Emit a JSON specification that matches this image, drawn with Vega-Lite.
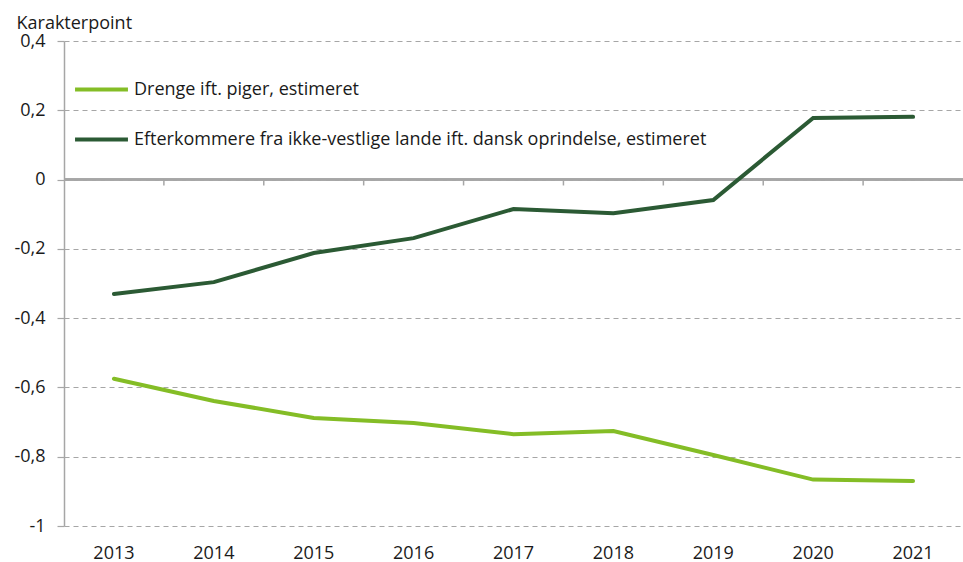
{
  "$schema": "https://vega.github.io/schema/vega-lite/v6.json",
  "width": 899,
  "height": 485,
  "autosize": {"type": "none"},
  "padding": {"left": 64, "top": 41, "right": 0, "bottom": 36},
  "background": "white",
  "config": {
    "font": "Open Sans",
    "view": {"stroke": null},
    "axis": {"labelFont": "Open Sans", "titleFont": "Open Sans", "labelColor": "#1a1a1a", "titleColor": "#1a1a1a"}
  },
  "datasets": {
    "main": [
      {"year": "2013", "series": "Drenge ift. piger, estimeret", "value": -0.575},
      {"year": "2014", "series": "Drenge ift. piger, estimeret", "value": -0.639},
      {"year": "2015", "series": "Drenge ift. piger, estimeret", "value": -0.688},
      {"year": "2016", "series": "Drenge ift. piger, estimeret", "value": -0.703},
      {"year": "2017", "series": "Drenge ift. piger, estimeret", "value": -0.735},
      {"year": "2018", "series": "Drenge ift. piger, estimeret", "value": -0.726},
      {"year": "2019", "series": "Drenge ift. piger, estimeret", "value": -0.795},
      {"year": "2020", "series": "Drenge ift. piger, estimeret", "value": -0.866},
      {"year": "2021", "series": "Drenge ift. piger, estimeret", "value": -0.870},
      {"year": "2013", "series": "Efterkommere fra ikke-vestlige lande ift. dansk oprindelse, estimeret", "value": -0.330},
      {"year": "2014", "series": "Efterkommere fra ikke-vestlige lande ift. dansk oprindelse, estimeret", "value": -0.296},
      {"year": "2015", "series": "Efterkommere fra ikke-vestlige lande ift. dansk oprindelse, estimeret", "value": -0.212},
      {"year": "2016", "series": "Efterkommere fra ikke-vestlige lande ift. dansk oprindelse, estimeret", "value": -0.169},
      {"year": "2017", "series": "Efterkommere fra ikke-vestlige lande ift. dansk oprindelse, estimeret", "value": -0.085},
      {"year": "2018", "series": "Efterkommere fra ikke-vestlige lande ift. dansk oprindelse, estimeret", "value": -0.097},
      {"year": "2019", "series": "Efterkommere fra ikke-vestlige lande ift. dansk oprindelse, estimeret", "value": -0.059},
      {"year": "2020", "series": "Efterkommere fra ikke-vestlige lande ift. dansk oprindelse, estimeret", "value": 0.178},
      {"year": "2021", "series": "Efterkommere fra ikke-vestlige lande ift. dansk oprindelse, estimeret", "value": 0.181}
    ],
    "years": [
      {"year": "2014"}, {"year": "2015"}, {"year": "2016"}, {"year": "2017"},
      {"year": "2018"}, {"year": "2019"}, {"year": "2020"}, {"year": "2021"}
    ]
  },
  "data": {"name": "main"},
  "layer": [
    {
      "mark": {"type": "rule", "color": "#a6a6a6", "strokeWidth": 1.5},
      "encoding": {"y": {"datum": 0, "type": "quantitative"}}
    },
    {
      "data": {"name": "years"},
      "mark": {"type": "rule", "color": "#a6a6a6", "strokeWidth": 1.5},
      "encoding": {
        "x": {"field": "year", "type": "ordinal", "bandPosition": 0},
        "y": {"datum": 0, "type": "quantitative"},
        "y2": {"datum": -0.017}
      }
    },
    {
      "mark": {"type": "line", "strokeWidth": 4, "strokeCap": "round", "strokeJoin": "miter"},
      "encoding": {
        "x": {
          "field": "year",
          "type": "ordinal",
          "scale": {"type": "band", "paddingInner": 0, "paddingOuter": 0},
          "axis": {
            "title": null,
            "domain": false,
            "ticks": false,
            "grid": false,
            "labelAngle": 0,
            "labelAlign": "center",
            "bandPosition": 0.5,
            "labelFontSize": 18,
            "labelPadding": 27
          }
        },
        "y": {
          "field": "value",
          "type": "quantitative",
          "scale": {"domain": [-1, 0.4], "nice": false, "zero": false},
          "axis": {
            "values": [-1, -0.8, -0.6, -0.4, -0.2, 0, 0.2, 0.4],
            "labelExpr": "replace(replace(format(datum.value, '.1~f'), '.', ','), '\u2212', '-')",
            "labelFontSize": 18,
            "labelPadding": 12,
            "tickSize": 7,
            "tickColor": "#a6a6a6",
            "domainColor": "#a6a6a6",
            "domainWidth": 1.5,
            "tickWidth": 1.2,
            "grid": true,
            "gridColor": "#a6a6a6",
            "gridDash": [5, 4],
            "gridWidth": 1.2,
            "title": "Karakterpoint",
            "titleAngle": 0,
            "titleAlign": "left",
            "titleBaseline": "alphabetic",
            "titleX": -48,
            "titleY": -13,
            "titleFontSize": 18,
            "titleFontWeight": "normal"
          }
        },
        "color": {
          "field": "series",
          "type": "nominal",
          "scale": {
            "domain": ["Drenge ift. piger, estimeret", "Efterkommere fra ikke-vestlige lande ift. dansk oprindelse, estimeret"],
            "range": ["#84bd26", "#2b5a34"]
          },
          "legend": {
            "title": null,
            "orient": "none",
            "legendX": 9,
            "legendY": 20,
            "symbolType": "stroke",
            "symbolSize": 2800,
            "symbolStrokeWidth": 4,
            "labelFontSize": 18,
            "labelColor": "#1a1a1a",
            "labelOffset": 4,
            "rowPadding": 12,
            "labelLimit": 800
          }
        }
      }
    }
  ]
}
